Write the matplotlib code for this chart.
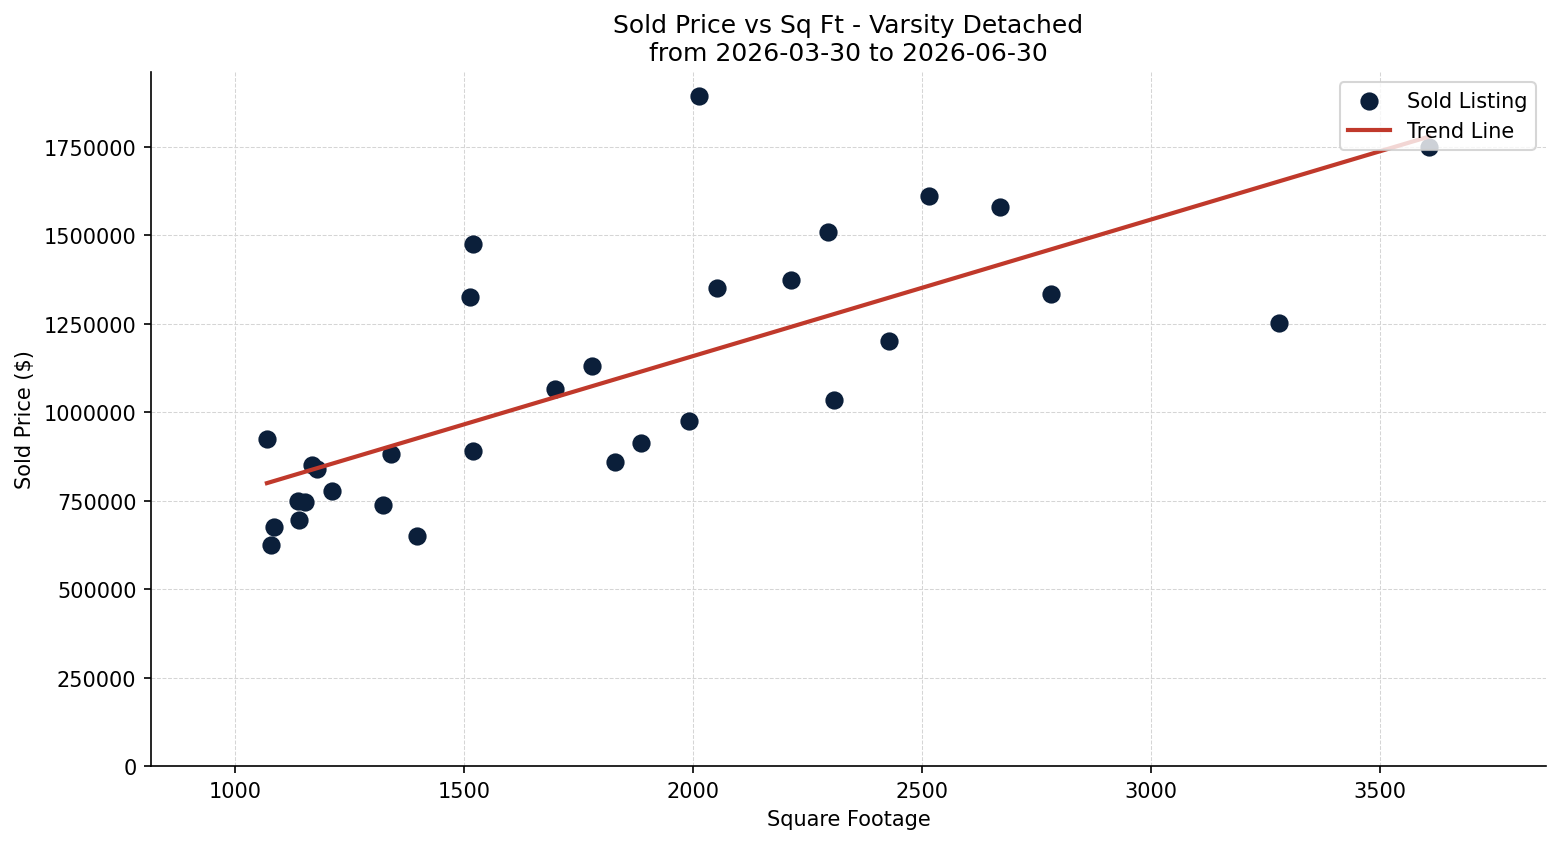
import numpy as np
import matplotlib
matplotlib.use("Agg")
import matplotlib.pyplot as plt

# sold listings: square footage and sold price
sqft = [1070, 1085, 1079, 1168, 1179, 1138, 1153, 1140, 1212, 1323,
        1341, 1397, 1513, 1520, 1520, 1699, 1779, 1830, 1886, 1991,
        2013, 2052, 2214, 2295, 2308, 2428, 2515, 2670, 2782, 3279, 3607]
price = [924000, 676000, 625000, 851000, 840000, 749000, 746000, 695000, 777000, 738000,
         882000, 650000, 1326000, 1476000, 890000, 1066000, 1131000, 859000, 913000, 975000,
         1894000, 1351000, 1374000, 1510000, 1035000, 1201000, 1611000, 1580000, 1334000, 1252000, 1750000]

x = np.array(sqft)
y = np.array(price)

fig, ax = plt.subplots(figsize=(10.4, 5.633), dpi=150)
ax.scatter(x, y, s=60, color='#0b1f3a', label='Sold Listing', zorder=3)

m, b = np.polyfit(x, y, 1)
xs = np.linspace(x.min(), x.max(), 100)
ax.plot(xs, m * xs + b, color='#c0392b', linewidth=2, label='Trend Line', zorder=4)

ax.set_title("Sold Price vs Sq Ft - Varsity Detached\nfrom 2026-03-30 to 2026-06-30", fontsize=12)
ax.set_xlabel("Square Footage")
ax.set_ylabel("Sold Price ($)")
ax.grid(True, linestyle='--', linewidth=0.5, color='#d5d5d5')
ax.set_axisbelow(True)
ax.spines['top'].set_visible(False)
ax.spines['right'].set_visible(False)
ax.ticklabel_format(style='plain', axis='y')
ax.set_xlim(817, 3862)
ax.set_ylim(0, 1962000)
ax.legend(loc='upper right')

fig.subplots_adjust(left=0.0968, right=0.991, top=0.9136, bottom=0.0923)
fig.savefig("out.png")
